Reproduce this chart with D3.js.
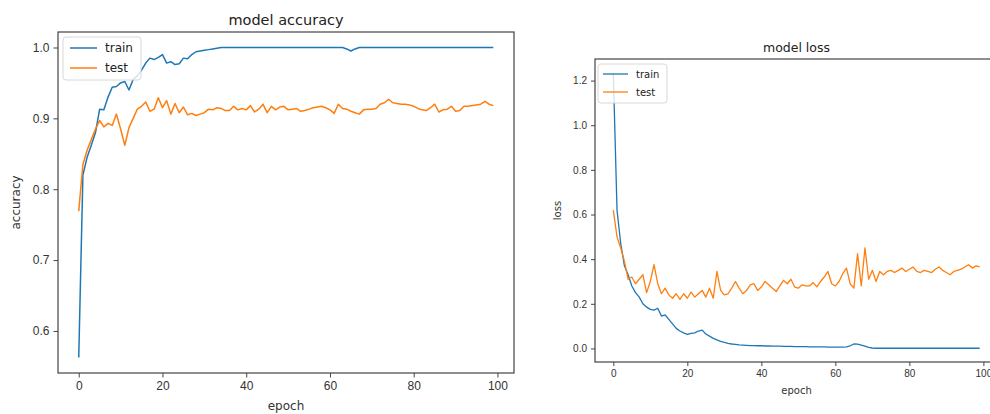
<!DOCTYPE html>
<html>
<head>
    <meta charset="utf-8">
    <title>model accuracy / model loss</title>
    <script src="https://cdnjs.cloudflare.com/ajax/libs/d3/7.8.5/d3.min.js"></script>
    <style type="text/css">
        html, body {
            margin: 0;
            background: #fff;
        }
        svg {
            display: block;
            font-family: "DejaVu Sans", sans-serif;
        }
        .tick text {
            fill: #333;
        }
    </style>
</head>
<body>
<svg id="chart" width="990" height="414"></svg>
<script type="text/javascript">
// epochs 0..99
var epochs = d3.range(0, 100);

var accTrain = [
    0.5625, 0.82, 0.845, 0.862, 0.88, 0.913, 0.912, 0.93, 0.944, 0.945,
    0.95, 0.952, 0.94, 0.955, 0.96, 0.968, 0.978, 0.985, 0.983, 0.986,
    0.99, 0.978, 0.98, 0.976, 0.977, 0.985, 0.984, 0.99, 0.994, 0.995,
    0.996, 0.997, 0.998, 0.999, 1.0, 1.0, 1.0, 1.0, 1.0, 1.0,
    1.0, 1.0, 1.0, 1.0, 1.0, 1.0, 1.0, 1.0, 1.0, 1.0,
    1.0, 1.0, 1.0, 1.0, 1.0, 1.0, 1.0, 1.0, 1.0, 1.0,
    1.0, 1.0, 1.0, 1.0, 0.998, 0.995, 0.998, 1.0, 1.0, 1.0,
    1.0, 1.0, 1.0, 1.0, 1.0, 1.0, 1.0, 1.0, 1.0, 1.0,
    1.0, 1.0, 1.0, 1.0, 1.0, 1.0, 1.0, 1.0, 1.0, 1.0,
    1.0, 1.0, 1.0, 1.0, 1.0, 1.0, 1.0, 1.0, 1.0, 1.0
];

var accTest = [
    0.769, 0.835, 0.855, 0.87, 0.885, 0.897, 0.888, 0.893, 0.89, 0.906,
    0.885, 0.862, 0.887, 0.9, 0.913, 0.917, 0.923, 0.91, 0.913, 0.929,
    0.915, 0.925, 0.906, 0.921, 0.908, 0.916, 0.905, 0.907, 0.904, 0.906,
    0.908, 0.913, 0.912, 0.915, 0.914, 0.911, 0.911, 0.917, 0.912, 0.914,
    0.912, 0.918, 0.909, 0.913, 0.92, 0.908, 0.917, 0.912, 0.916, 0.917,
    0.912, 0.913, 0.914, 0.91, 0.911, 0.913, 0.915, 0.916, 0.917, 0.915,
    0.912, 0.907, 0.92, 0.914, 0.913, 0.91, 0.908, 0.906, 0.912, 0.913,
    0.913, 0.914, 0.92, 0.922, 0.927, 0.922, 0.921, 0.92, 0.92, 0.919,
    0.917, 0.914, 0.912, 0.911, 0.915, 0.92, 0.909, 0.912, 0.913, 0.917,
    0.91, 0.911, 0.917, 0.917, 0.918, 0.919, 0.92, 0.924, 0.92, 0.918
];

var lossTrain = [
    1.235, 0.62, 0.47, 0.37, 0.33, 0.28, 0.25, 0.23, 0.2, 0.185,
    0.175, 0.172, 0.18, 0.145, 0.15, 0.13, 0.11, 0.09, 0.078, 0.07,
    0.063, 0.068, 0.07, 0.078, 0.082, 0.065, 0.055, 0.045, 0.038, 0.032,
    0.027, 0.023, 0.02, 0.018, 0.016, 0.015, 0.014, 0.013, 0.013, 0.012,
    0.012, 0.011, 0.011, 0.01, 0.01, 0.01, 0.009, 0.009, 0.009, 0.008,
    0.008, 0.008, 0.008, 0.007, 0.007, 0.007, 0.007, 0.007, 0.006, 0.006,
    0.006, 0.006, 0.006, 0.007, 0.012, 0.02, 0.019, 0.015, 0.01, 0.005,
    0.002, 0.001, 0.001, 0.001, 0.001, 0.001, 0.001, 0.001, 0.001, 0.001,
    0.001, 0.001, 0.001, 0.001, 0.001, 0.001, 0.001, 0.001, 0.001, 0.001,
    0.001, 0.001, 0.001, 0.001, 0.001, 0.001, 0.001, 0.001, 0.001, 0.001
];

var lossTest = [
    0.62, 0.5, 0.45, 0.39, 0.31, 0.32, 0.29, 0.31, 0.33, 0.25,
    0.3, 0.375, 0.29, 0.245, 0.27, 0.24, 0.225, 0.245, 0.22, 0.245,
    0.225, 0.253, 0.23, 0.245, 0.26, 0.23, 0.27, 0.225, 0.345, 0.26,
    0.24, 0.245, 0.27, 0.3, 0.27, 0.245, 0.26, 0.285, 0.29, 0.26,
    0.275, 0.3, 0.285, 0.27, 0.255, 0.28, 0.305, 0.29, 0.31, 0.275,
    0.27, 0.285, 0.28, 0.28, 0.295, 0.276, 0.3, 0.32, 0.345, 0.29,
    0.28, 0.3, 0.335, 0.36, 0.29, 0.27, 0.425, 0.28, 0.45, 0.31,
    0.35, 0.3, 0.345, 0.33, 0.345, 0.35, 0.34, 0.35, 0.36, 0.345,
    0.355, 0.365, 0.345, 0.34, 0.35, 0.345, 0.34, 0.355, 0.365, 0.35,
    0.34, 0.33, 0.345, 0.35, 0.355, 0.365, 0.375, 0.36, 0.37, 0.365
];

var xTicks = [0, 20, 40, 60, 80, 100];
var accTicks = [0.6, 0.7, 0.8, 0.9, 1.0];
var lossTicks = [0.0, 0.2, 0.4, 0.6, 0.8, 1.0, 1.2];
var seriesNames = ["train", "test"];
var colors = ["#1f77b4", "#ff7f0e"];

var svg = d3.select("#chart");

// matplotlib style 5% margins
function padded(arrs) {
    var all = d3.merge(arrs);
    var lo = d3.min(all), hi = d3.max(all), m = (hi - lo) * 0.05;
    return [lo - m, hi + m];
}

function drawPanel(p) {
    var g = svg.append("g");
    var xDom = padded([epochs]);
    var x = d3.scaleLinear().domain(xDom).range([p.left, p.right]);
    var y = d3.scaleLinear().domain(padded(p.series)).range([p.bottom, p.top]);

    // lines first, clipped to axes area
    var clipId = "clip-" + p.id;
    g.append("clipPath").attr("id", clipId).append("rect")
        .attr("x", p.left).attr("y", p.top)
        .attr("width", p.right - p.left).attr("height", p.bottom - p.top);

    var line = d3.line()
        .x(function(d, i) { return x(epochs[i]); })
        .y(function(d) { return y(d); });

    p.series.forEach(function(s, i) {
        g.append("path")
            .attr("clip-path", "url(#" + clipId + ")")
            .attr("d", line(s))
            .attr("fill", "none")
            .attr("stroke", colors[i])
            .attr("stroke-width", p.lw)
            .attr("stroke-linejoin", "round");
    });

    var xAxis = g.append("g")
        .attr("transform", "translate(0," + p.bottom + ")")
        .call(d3.axisBottom(x).tickValues(xTicks).tickSize(p.tick).tickPadding(p.pad).tickFormat(d3.format("d")));
    var yAxis = g.append("g")
        .attr("transform", "translate(" + p.left + ",0)")
        .call(d3.axisLeft(y).tickValues(p.yTicks).tickSize(p.tick).tickPadding(p.pad).tickFormat(d3.format(".1f")));
    [xAxis, yAxis].forEach(function(a) {
        a.select(".domain").remove();
        a.selectAll(".tick line").attr("stroke", "#444");
        a.selectAll(".tick text").style("font-size", p.fs + "px").attr("fill", "#333");
    });

    // spines
    g.append("rect")
        .attr("x", p.left).attr("y", p.top)
        .attr("width", p.right - p.left).attr("height", p.bottom - p.top)
        .attr("fill", "none").attr("stroke", "#444").attr("stroke-width", 1.2);

    g.append("text")
        .attr("x", (p.left + p.right) / 2).attr("y", p.titleY)
        .attr("text-anchor", "middle")
        .style("font-size", p.titleFs + "px").attr("fill", "#222")
        .text(p.title);
    g.append("text")
        .attr("x", (p.left + p.right) / 2).attr("y", p.xlabY)
        .attr("text-anchor", "middle")
        .style("font-size", p.fs + "px").attr("fill", "#333")
        .text("epoch");
    g.append("text")
        .attr("transform", "translate(" + p.ylabX + "," + ((p.top + p.bottom) / 2) + ") rotate(-90)")
        .attr("text-anchor", "middle")
        .style("font-size", p.fs + "px").attr("fill", "#333")
        .text(p.ylabel);

    // legend
    var lg = g.append("g");
    lg.append("rect")
        .attr("x", p.leg[0]).attr("y", p.leg[1]).attr("width", p.leg[2]).attr("height", p.leg[3])
        .attr("rx", 3).attr("fill", "#fff").attr("fill-opacity", 0.8)
        .attr("stroke", "#d8d8d8");
    seriesNames.forEach(function(name, i) {
        var yy = p.leg[1] + p.legRow0 + i * p.legStep;
        lg.append("line")
            .attr("x1", p.leg[0] + p.legPad).attr("x2", p.leg[0] + p.legPad + p.legLine)
            .attr("y1", yy).attr("y2", yy)
            .attr("stroke", colors[i]).attr("stroke-width", p.lw);
        lg.append("text")
            .attr("x", p.leg[0] + p.legPad + p.legLine + p.legGap).attr("y", yy)
            .attr("dy", "0.35em")
            .style("font-size", p.fs + "px").attr("fill", "#222")
            .text(name);
    });
}

drawPanel({
    id: "acc", title: "model accuracy", ylabel: "accuracy",
    series: [accTrain, accTest], yTicks: accTicks,
    left: 58, right: 514, top: 32, bottom: 373,
    lw: 1.5, tick: 4.5, pad: 4, fs: 12, titleFs: 14.5,
    titleY: 25, xlabY: 410, ylabX: 20,
    leg: [63, 37, 78, 43], legRow0: 11, legStep: 20, legPad: 7, legLine: 27, legGap: 8
});

drawPanel({
    id: "loss", title: "model loss", ylabel: "loss",
    series: [lossTrain, lossTest], yTicks: lossTicks,
    left: 595, right: 998, top: 59, bottom: 362,
    lw: 1.3, tick: 4, pad: 4, fs: 10, titleFs: 12.5,
    titleY: 52, xlabY: 394, ylabX: 561,
    leg: [598, 64, 69, 39], legRow0: 10, legStep: 18, legPad: 5, legLine: 25, legGap: 8
});
</script>
</body>
</html>
